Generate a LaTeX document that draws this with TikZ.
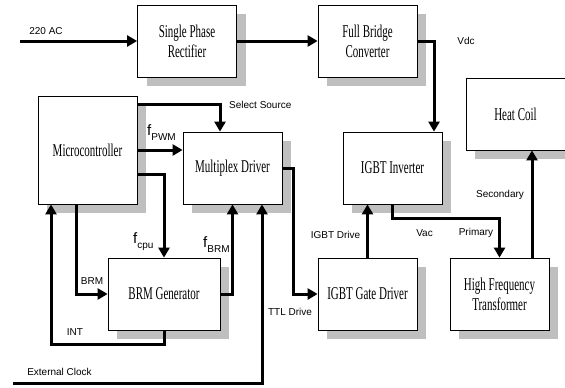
\documentclass[tikz,border=0pt]{standalone}
\usepackage{fontspec}
\setmainfont{Liberation Sans}
\newfontfamily\boxfont[FakeStretch=0.61]{Liberation Serif}
\usetikzlibrary{arrows.meta,shadows}

\tikzset{
  block/.style={draw=black, line width=0.8pt, fill=white, minimum width=99pt,
    minimum height=72pt, align=center, inner sep=2pt,
    font=\boxfont\fontsize{18}{20}\selectfont,
    drop shadow={shadow xshift=9pt, shadow yshift=-9pt, fill=black!25, opacity=1}},
  link/.style={line width=3pt, -{Triangle[length=10pt,width=11pt]}},
  lbl/.style={font=\fontsize{10}{12}\selectfont, inner sep=0pt},
}
\newcommand{\freq}[1]{{\fontsize{15}{15}\selectfont f}\raisebox{-5pt}{#1}}

\begin{document}
\begin{tikzpicture}[x=1pt,y=-1pt]
\useasboundingbox (0,0) rectangle (565,388);
% blocks
\node[block] (rect) at (187,41) {Single Phase\\Rectifier};
\node[block] (fbc) at (367.5,41) {Full Bridge\\Converter};
\node[block] (heat) at (515.5,114) {Heat Coil};
\node[block] (inv) at (392.5,168) {IGBT Inverter};
\node[block, minimum height=108pt] (micro) at (87.5,150) {Microcontroller};
\node[block] (mux) at (232.5,168) {Multiplex Driver};
\node[block, minimum width=112pt] (brm) at (164,294) {BRM Generator};
\node[block] (gate) at (367.5,294) {IGBT Gate Driver};
\node[block] (hft) at (499.5,294) {High Frequency\\Transformer};
% free ends
\coordinate (ac) at (20,41);
\coordinate (ext) at (13,383);
% power path
\draw[link] (ac) -- (rect);
\draw[link] (rect) -- (fbc);
\draw[link] (fbc.east) -| ([xshift=41.5pt]inv.north);
\draw[link] (inv.south) -- ++(0,14) -| (hft.north);
\draw[link] ([xshift=32.5pt]hft.north) -- ([xshift=32.5pt]hft.north |- heat.south);
% control path
\draw[link] ([yshift=-9pt]micro.north east) -| ([xshift=-12.5pt]mux.north);
\draw[link] (micro.east) -- (micro.east -| mux.west);
\draw[link] ([yshift=-24pt]micro.east) -| (brm.north);
\draw[link] ([xshift=-11.5pt]micro.south) |- (brm.west);
\draw[link] (brm.south) -- ++(0,14) -| ([xshift=-36.5pt]micro.south);
\draw[link] (brm.east) -| (mux.south);
\draw[link] (ext) -| ([xshift=29.5pt]mux.south);
\draw[link] (mux.east) -- ++(11,0) |- (gate.west);
\draw[link] (gate.north) -- (gate.north |- inv.south);
% labels
\node[lbl] (lac) at (46,31) {220 AC};
\node[lbl] (lvdc) at (466,41) {Vdc};
\node[lbl, anchor=west] (lsel) at (229,105) {Select Source};
\node[lbl, anchor=base west] (lpwm) at (147,135) {\freq{PWM}};
\node[lbl, anchor=base west] (lcpu) at (133,243) {\freq{cpu}};
\node[lbl, anchor=base west] (lfbrm) at (203,247) {\freq{BRM}};
\node[lbl] (lbrm) at (92,281) {BRM};
\node[lbl] (lint) at (75,332) {INT};
\node[lbl] (lext) at (59.5,372) {External Clock};
\node[lbl] (lttl) at (290,312) {TTL Drive};
\node[lbl] (ligbt) at (335.5,234.5) {IGBT Drive};
\node[lbl] (lvac) at (424.5,233) {Vac};
\node[lbl] (lpri) at (476,233) {Primary};
\node[lbl] (lsec) at (500,195) {Secondary};
\end{tikzpicture}
\end{document}
